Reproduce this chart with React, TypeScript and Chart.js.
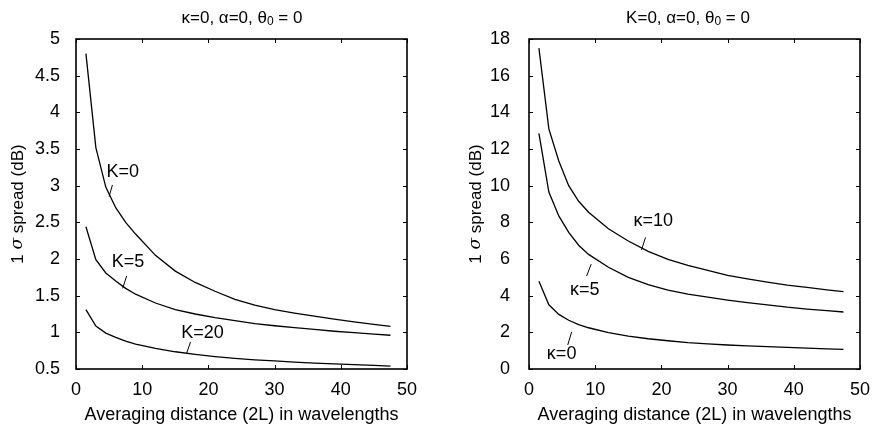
import React, { useEffect, useRef } from "react";
import { Chart, registerables } from "chart.js";

Chart.register(...registerables);

// ---------- data ----------
const distance = [1.5, 3, 4.5, 6, 7.5, 9, 12, 15, 18, 21, 24, 27, 30, 33, 36, 39, 42, 45, 47.5];

// left panel (kappa=0): K = 0, 5, 20
const leftK0 = [4.8, 3.52, 2.98, 2.7, 2.5, 2.34, 2.05, 1.835, 1.68, 1.56, 1.45, 1.37, 1.31, 1.262, 1.22, 1.18, 1.143, 1.108, 1.08];
const leftK5 = [2.44, 1.99, 1.81, 1.7, 1.6, 1.52, 1.4, 1.31, 1.25, 1.2, 1.16, 1.12, 1.09, 1.065, 1.04, 1.015, 0.995, 0.975, 0.96];
const leftK20 = [1.31, 1.085, 0.99, 0.93, 0.88, 0.84, 0.78, 0.735, 0.7, 0.67, 0.645, 0.625, 0.61, 0.595, 0.58, 0.57, 0.56, 0.55, 0.54];

// right panel (K=0): kappa = 0, 5, 10
const rightKappa0 = [4.78, 3.5, 2.98, 2.66, 2.42, 2.25, 1.99, 1.79, 1.65, 1.54, 1.44, 1.37, 1.31, 1.26, 1.22, 1.18, 1.14, 1.1, 1.07];
const rightKappa5 = [12.85, 9.65, 8.35, 7.45, 6.75, 6.25, 5.55, 5.0, 4.6, 4.3, 4.08, 3.92, 3.76, 3.62, 3.5, 3.37, 3.27, 3.18, 3.11];
const rightKappa10 = [17.5, 13.1, 11.35, 10.0, 9.15, 8.55, 7.65, 6.98, 6.42, 5.98, 5.65, 5.38, 5.11, 4.92, 4.74, 4.58, 4.45, 4.32, 4.22];

const xTicks = [0, 10, 20, 30, 40, 50];
const leftYTicks = [0.5, 1, 1.5, 2, 2.5, 3, 3.5, 4, 4.5, 5];
const rightYTicks = [0, 2, 4, 6, 8, 10, 12, 14, 16, 18];

const leftSeries = [leftK0, leftK5, leftK20];
const rightSeries = [rightKappa0, rightKappa5, rightKappa10];

// curve labels: text, text anchor (data), leader line (data)
const leftLabels = [
  { text: "K=0", x: 4.6, y: 3.19, from: [5.5, 3.01], to: [5.0, 2.85] },
  { text: "K=5", x: 5.4, y: 1.96, from: [7.66, 1.77], to: [7.05, 1.6] },
  { text: "K=20", x: 15.9, y: 0.99, from: [17.3, 0.87], to: [16.7, 0.71] },
];
const rightLabels = [
  { text: "\u03ba=10", x: 15.8, y: 8.08, from: [17.6, 7.18], to: [17.0, 6.49] },
  { text: "\u03ba=5", x: 6.2, y: 4.33, from: [9.4, 5.72], to: [8.7, 5.07] },
  { text: "\u03ba=0", x: 2.7, y: 0.8, from: [6.45, 2.03], to: [5.85, 1.31] },
];

const FONT = "'Liberation Sans', Arial, Helvetica, sans-serif";

type Part = { text: string; font: string; dy?: number };

function drawRich(ctx: CanvasRenderingContext2D, parts: Part[], cx: number, cy: number) {
  let total = 0;
  const widths = parts.map((p) => {
    ctx.font = p.font;
    const w = ctx.measureText(p.text).width;
    total += w;
    return w;
  });
  let x = cx - total / 2;
  ctx.textAlign = "left";
  ctx.textBaseline = "middle";
  parts.forEach((p, i) => {
    ctx.font = p.font;
    ctx.fillText(p.text, x, cy + (p.dy || 0));
    x += widths[i];
  });
}

function makeOverlay(spec: {
  title: Part[];
  titleX: number;
  yTitleX: number;
  labels: { text: string; x: number; y: number; from: number[]; to: number[] }[];
  yTicks: number[];
}) {
  return {
    id: "overlay",
    afterDraw(chart: any) {
      const ctx: CanvasRenderingContext2D = chart.ctx;
      const a = chart.chartArea;
      const xs = chart.scales.x;
      const ys = chart.scales.y;
      ctx.save();
      ctx.strokeStyle = "#000";
      ctx.fillStyle = "#000";
      // frame
      ctx.lineWidth = 1.6;
      ctx.strokeRect(a.left, a.top, a.right - a.left, a.bottom - a.top);
      // inward ticks on all sides
      ctx.lineWidth = 1;
      const tl = 4;
      ctx.beginPath();
      xTicks.forEach((v) => {
        const px = Math.round(xs.getPixelForValue(v)) + 0.5;
        ctx.moveTo(px, a.bottom);
        ctx.lineTo(px, a.bottom - tl);
        ctx.moveTo(px, a.top);
        ctx.lineTo(px, a.top + tl);
      });
      spec.yTicks.forEach((v) => {
        const py = Math.round(ys.getPixelForValue(v)) + 0.5;
        ctx.moveTo(a.left, py);
        ctx.lineTo(a.left + tl, py);
        ctx.moveTo(a.right, py);
        ctx.lineTo(a.right - tl, py);
      });
      ctx.stroke();
      // title
      drawRich(ctx, spec.title, spec.titleX, 18);
      // x title
      ctx.font = "18px " + FONT;
      ctx.textAlign = "center";
      ctx.textBaseline = "middle";
      ctx.fillText("Averaging distance (2L) in wavelengths", (a.left + a.right) / 2, 415);
      // y title
      ctx.save();
      ctx.translate(spec.yTitleX, (a.top + a.bottom) / 2);
      ctx.rotate(-Math.PI / 2);
      drawRich(
        ctx,
        [
          { text: "1 ", font: "17px " + FONT },
          { text: "\u03c3", font: "italic 17px 'DejaVu Serif', 'Liberation Serif', serif" },
          { text: " spread (dB)", font: "17px " + FONT },
        ],
        0,
        0
      );
      ctx.restore();
      // curve labels with leader lines
      ctx.font = "18px " + FONT;
      ctx.textAlign = "left";
      ctx.textBaseline = "middle";
      ctx.lineWidth = 1;
      spec.labels.forEach((l) => {
        ctx.fillText(l.text, xs.getPixelForValue(l.x), ys.getPixelForValue(l.y));
        ctx.beginPath();
        ctx.moveTo(xs.getPixelForValue(l.from[0]), ys.getPixelForValue(l.from[1]));
        ctx.lineTo(xs.getPixelForValue(l.to[0]), ys.getPixelForValue(l.to[1]));
        ctx.stroke();
      });
      ctx.restore();
    },
  };
}

function Panel(props: {
  series: number[][];
  yMin: number;
  yMax: number;
  yStep: number;
  yTicks: number[];
  yWidth: number;
  yPad: number;
  rightPad: number;
  title: Part[];
  titleX: number;
  yTitleX: number;
  labels: { text: string; x: number; y: number; from: number[]; to: number[] }[];
}) {
  const ref = useRef<HTMLCanvasElement | null>(null);
  useEffect(() => {
    if (!ref.current) return;
    const tickFont = { family: FONT, size: 18 };
    const chart = new Chart(ref.current, {
      type: "line",
      data: {
        datasets: props.series.map((s) => ({
          data: s.map((v, i) => ({ x: distance[i], y: v })),
          borderColor: "#000",
          borderWidth: 1.3,
          pointRadius: 0,
          tension: 0,
          fill: false,
        })),
      },
      options: {
        responsive: false,
        animation: false,
        events: [],
        layout: { padding: { top: 39, right: props.rightPad, left: 0, bottom: 0 } },
        plugins: { legend: { display: false }, tooltip: { enabled: false }, title: { display: false } },
        scales: {
          x: {
            type: "linear",
            min: 0,
            max: 50,
            grid: { display: false },
            border: { display: false },
            ticks: { stepSize: 10, color: "#000", font: tickFont, padding: 2, maxRotation: 0 },
            afterFit: (s: any) => {
              s.height = 61;
            },
          },
          y: {
            type: "linear",
            min: props.yMin,
            max: props.yMax,
            grid: { display: false },
            border: { display: false },
            ticks: {
              stepSize: props.yStep,
              color: "#000",
              font: tickFont,
              padding: props.yPad,
              callback: (v: any) => String(Number(Number(v).toFixed(2))),
            },
            afterFit: (s: any) => {
              s.width = props.yWidth;
            },
          },
        },
      } as any,
      plugins: [makeOverlay({ title: props.title, titleX: props.titleX, yTitleX: props.yTitleX, labels: props.labels, yTicks: props.yTicks })],
    });
    return () => chart.destroy();
  }, []);
  return <canvas ref={ref} width={436} height={430} style={{ display: "block", width: 436, height: 430 }} />;
}

export default function App() {
  const tf = "17px " + FONT;
  const sub = "12px " + FONT;
  return (
    <div style={{ position: "fixed", left: 0, top: 0, width: 872, height: 430, background: "#fff", display: "flex" }}>
      <Panel
        series={leftSeries}
        yMin={0.5}
        yMax={5}
        yStep={0.5}
        yTicks={leftYTicks}
        yWidth={76}
        yPad={8}
        rightPad={29}
        title={[
          { text: "\u03ba=0, \u03b1=0, \u03b8", font: tf },
          { text: "0", font: sub, dy: 4 },
          { text: " = 0", font: tf },
        ]}
        titleX={242}
        yTitleX={18}
        labels={leftLabels}
      />
      <Panel
        series={rightSeries}
        yMin={0}
        yMax={18}
        yStep={2}
        yTicks={rightYTicks}
        yWidth={93}
        yPad={11}
        rightPad={12}
        title={[
          { text: "K=0, \u03b1=0, \u03b8", font: tf },
          { text: "0", font: sub, dy: 4 },
          { text: " = 0", font: tf },
        ]}
        titleX={252}
        yTitleX={40}
        labels={rightLabels}
      />
    </div>
  );
}
